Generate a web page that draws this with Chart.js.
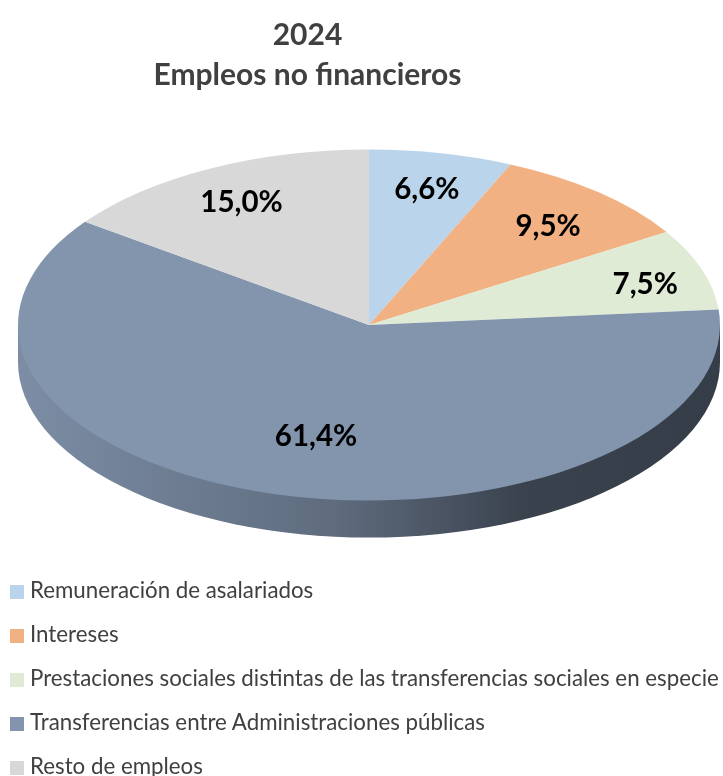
<!DOCTYPE html>
<html>
<head>
<meta charset="utf-8">
<style>
    html, body { margin: 0; background: #fff; overflow: hidden; }
    #wrap { position: relative; width: 723px; height: 776px; }
    #legend { position: absolute; left: 10px; top: 568px; font: 22.3px Lato, sans-serif; color: #404040; white-space: nowrap; }
    #legend div { height: 44px; line-height: 44px; }
    #legend i { display: inline-block; width: 14px; height: 14px; margin-right: 6px; vertical-align: -1px; }
</style>
<script src="https://cdn.jsdelivr.net/npm/chart.js@4"></script>
</head>
<body>
<div id="wrap">
    <canvas id="chart1" width="723" height="776"></canvas>
    <div id="legend"></div>
</div>
<script>
const labels = [
    'Remuneración de asalariados',
    'Intereses',
    'Prestaciones sociales distintas de las transferencias sociales en especie',
    'Transferencias entre Administraciones públicas',
    'Resto de empleos'
];
const values = [6.6, 9.5, 7.5, 61.4, 15.0];
const colors = ['#BAD4EB', '#F2B183', '#E0EBD6', '#8295AD', '#D8D8D8'];

// look of the tilted pie
const centerX = 369;
const centerY = 325;
const squash = 0.5;
const depth = 37;
const labelRadiusX = [0.8, 0.78, 0.83, 0.565, 0.8];
const labelRadiusY = [0.79, 0.745, 0.73, 0.657, 0.785];

// draws the pie flattened, with the side wall under it
const tiltPlugin = {
    id: 'tilt',
    beforeDatasetsDraw(chart) {
        const ctx = chart.ctx;
        const arc = chart.getDatasetMeta(0).data[0];
        const r = arc.outerRadius;

        const grad = ctx.createLinearGradient(centerX - r, 0, centerX + r, 0);
        grad.addColorStop(0, '#7C8DA5');
        grad.addColorStop(0.45, '#5F6C7E');
        grad.addColorStop(0.72, '#3A424E');
        grad.addColorStop(1, '#343D48');

        ctx.save();
        ctx.fillStyle = grad;
        ctx.beginPath();
        ctx.moveTo(centerX + r, centerY);
        ctx.lineTo(centerX + r, centerY + depth);
        ctx.ellipse(centerX, centerY + depth, r, r * squash, 0, 0, Math.PI);
        ctx.lineTo(centerX - r, centerY);
        ctx.closePath();
        ctx.fill();
        ctx.restore();

        ctx.save();
        ctx.translate(centerX, centerY);
        ctx.scale(1, squash);
        ctx.translate(-arc.x, -arc.y);
    },
    afterDatasetsDraw(chart) {
        const ctx = chart.ctx;
        ctx.restore();

        ctx.save();
        ctx.font = 'bold 29.5px Lato, sans-serif';
        ctx.fillStyle = '#000';
        ctx.textAlign = 'center';
        ctx.textBaseline = 'middle';
        chart.getDatasetMeta(0).data.forEach((arc, i) => {
            const mid = (arc.startAngle + arc.endAngle) / 2;
            const x = centerX + Math.cos(mid) * arc.outerRadius * labelRadiusX[i];
            const y = centerY + Math.sin(mid) * arc.outerRadius * squash * labelRadiusY[i];
            ctx.fillText(values[i].toFixed(1).replace('.', ',') + '%', x, y);
        });
        ctx.restore();
    }
};

const chart1 = new Chart(document.getElementById('chart1').getContext('2d'), {
    type: 'pie',
    data: {
        labels: labels,
        datasets: [{
            data: values,
            backgroundColor: colors,
            borderWidth: 0
        }]
    },
    options: {
        responsive: false,
        animation: false,
        radius: 351,
        // right padding moves the centred title left of the pie
        layout: { padding: { top: 5, right: 108 } },
        plugins: {
            legend: { display: false },
            tooltip: { enabled: false },
            title: {
                display: true,
                text: ['2024', 'Empleos no financieros'],
                color: '#404040',
                font: { family: 'Lato, sans-serif', size: 30, weight: 'bold', lineHeight: 1.33 }
            }
        }
    },
    plugins: [tiltPlugin]
});

const legend = document.getElementById('legend');
labels.forEach((name, i) => {
    const row = document.createElement('div');
    const box = document.createElement('i');
    box.style.background = colors[i];
    row.appendChild(box);
    row.appendChild(document.createTextNode(name));
    legend.appendChild(row);
});
</script>
</body>
</html>
